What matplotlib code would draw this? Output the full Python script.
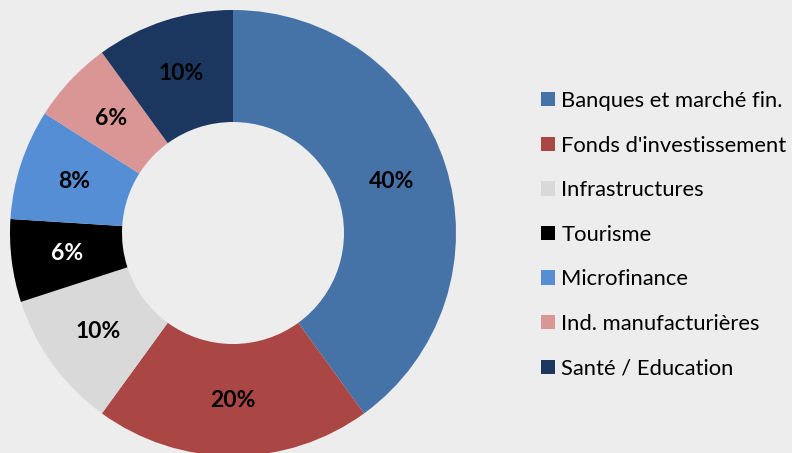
import matplotlib.pyplot as plt
from matplotlib.patches import Patch

# Données
secteurs = ['Banques et marché fin.', "Fonds d'investissement", 'Infrastructures',
            'Tourisme', 'Microfinance', 'Ind. manufacturières', 'Santé / Education']
parts = [40, 20, 10, 6, 8, 6, 10]
couleurs = ['#4573A7', '#AA4644', '#D9D9D9', '#000000', '#558ED5', '#D99694', '#1B375F']
couleurs_texte = ['black', 'black', 'black', 'white', 'black', 'black', 'black']

fond = '#EDEDED'
plt.rcParams['font.family'] = ['Lato', 'DejaVu Sans']

fig = plt.figure(figsize=(7.92, 4.53), dpi=100, facecolor=fond)
ax = fig.add_axes([0, 0, 1, 1])
ax.set_facecolor(fond)
ax.axis('off')

wedges, textes = ax.pie(parts, colors=couleurs, startangle=90, counterclock=False,
                        center=(233, 220), radius=223,
                        wedgeprops=dict(width=112, linewidth=0),
                        labels=[f'{p}%' for p in parts], labeldistance=0.75,
                        textprops=dict(fontsize=16.5, fontweight='bold'))
for t, c in zip(textes, couleurs_texte):
    t.set_color(c)
    t.set_horizontalalignment('center')
    t.set_verticalalignment('center')
ax.set_xlim(0, 792)
ax.set_ylim(0, 453)
ax.set_aspect('auto')

poignees = [Patch(facecolor=c, edgecolor='none') for c in couleurs]
ax.legend(poignees, secteurs, loc='upper left', bbox_to_anchor=(541, 453 - 91),
          bbox_transform=ax.transData, frameon=False, fontsize=15.8,
          handlelength=0.62, handleheight=0.62, handletextpad=0.3,
          labelspacing=1.12, borderpad=0, borderaxespad=0)

fig.savefig('out.png', dpi=100, facecolor=fond)
